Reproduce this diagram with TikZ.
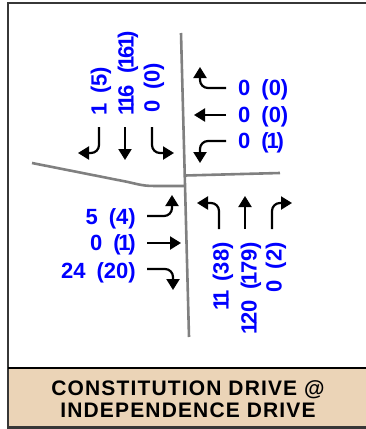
\documentclass[tikz,border=0pt]{standalone}
\usepackage{fontspec}
\setmainfont{Liberation Sans}
\usetikzlibrary{arrows.meta}

\definecolor{roadgray}{RGB}{128,128,128}
\definecolor{framegray}{RGB}{55,55,55}
\definecolor{titletan}{RGB}{235,212,183}

% narrow figure one, closer to a proportional "1"
\newcommand{\nI}{\kern-2.2pt1\kern-2.2pt}
\newcommand{\gp}{\hspace{11pt}}

\begin{document}
\begin{tikzpicture}[x=1pt,y=-1pt,
  road/.style={draw=roadgray,line width=2.6pt},
  mv/.style={draw=black,line width=2.2pt,rounded corners=8pt,
    -{Triangle[length=11pt,width=13pt]}},
  cnt/.style={text=blue,font=\bfseries\fontsize{22}{22}\selectfont,
    inner sep=0pt,text height=15pt,text depth=0pt},
  ttl/.style={font=\bfseries\fontsize{21}{21}\selectfont\addfontfeature{LetterSpace=5.5},
    inner sep=0pt,anchor=base},
]
\useasboundingbox (0,0) rectangle (366,429);
\clip (0,0) rectangle (366,429);

% frame and title band
\fill[titletan] (8,368) rectangle (372,427);
\draw[framegray,line width=2.2pt] (8,432) -- (8,3) -- (372,3);
\draw[black,line width=2.6pt] (8,368) -- (372,368);
\draw[framegray,line width=2.6pt] (8,427.7) -- (372,427.7);

\node[ttl] (t1) at (188,395) {CONSTITUTION DRIVE @};
\node[ttl] (t2) at (188,417) {INDEPENDENCE DRIVE};

% road centre lines
\draw[road] (181,33) -- (189,337);
\draw[road] (32,163) -- (128,182) .. controls (145,186) .. (163,186) -- (185,186);
\draw[road] (185,175.5) -- (280,173);

% southbound approach
\draw[mv] (99,127) |- (78,153);
\draw[mv] (125,127) -- (125,160);
\draw[mv] (152,127) |- (174,153);
\node[cnt,rotate=90,anchor=west] (sbl) at (99,113) {\nI\gp(5)};
\node[cnt,rotate=90,anchor=west] (sbt) at (126,113) {\nI\nI6\gp(\nI6\nI)};
\node[cnt,rotate=90,anchor=west] (sbr) at (152,113) {0\gp(0)};

% westbound approach
\draw[mv] (226,88) -| (200,67);
\draw[mv] (226,115) -- (194,115);
\draw[mv] (226,141) -| (200,163);
\node[cnt,anchor=west] (wbr) at (238,88) {0\gp(0)};
\node[cnt,anchor=west] (wbt) at (238,114.5) {0\gp(0)};
\node[cnt,anchor=west] (wbl) at (238,141) {0\gp(\nI)};

% eastbound approach
\draw[mv] (147,216) -| (172,195);
\draw[mv] (147,243) -- (181,243);
\draw[mv] (147,269) -| (173,290);
\node[cnt,anchor=east] (ebl) at (136,217) {5\gp(4)};
\node[cnt,anchor=east] (ebt) at (136,243) {0\gp(\nI)};
\node[cnt,anchor=east] (ebr) at (136,270.5) {24\gp(20)};

% northbound approach
\draw[mv] (219,229) |- (197,203);
\draw[mv] (245,229) -- (245,196);
\draw[mv] (272,229) |- (292,203);
\node[cnt,rotate=90,anchor=east] (nbl) at (221,242) {\nI\nI\gp(38)};
\node[cnt,rotate=90,anchor=east] (nbt) at (249,242) {\nI20\gp(\nI79)};
\node[cnt,rotate=90,anchor=east] (nbr) at (274,242) {0\gp(2)};
\end{tikzpicture}
\end{document}
